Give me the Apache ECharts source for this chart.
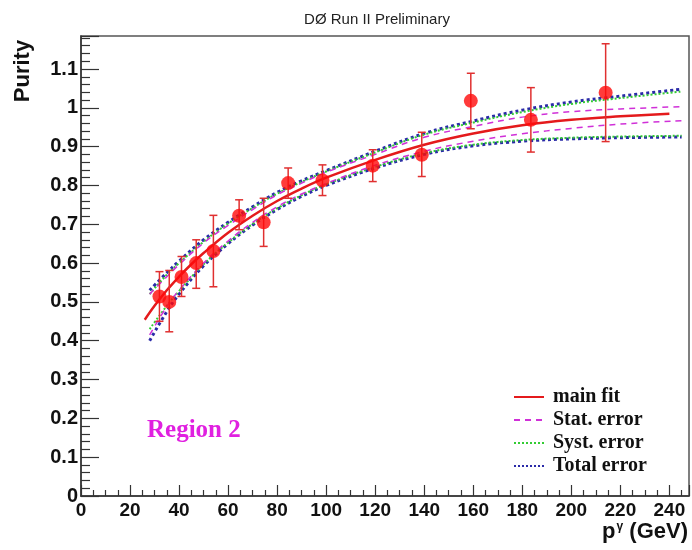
<!DOCTYPE html>
<html><head><meta charset="utf-8">
<script src="https://cdn.jsdelivr.net/npm/echarts@6/dist/echarts.min.js"></script>
<style>html,body{margin:0;padding:0;background:#fff}#c{width:692px;height:550px}</style>
</head><body><div id="c"></div>
<script>
// data points (pT bin centres, purity, error bar ends)
const pointX = [32, 36, 41, 47, 54, 64.5, 74.5, 84.5, 98.5, 119, 139, 159, 183.5, 214];
const pointY = [0.514, 0.50, 0.564, 0.60, 0.631, 0.722, 0.705, 0.806, 0.813, 0.851, 0.879, 1.018, 0.969, 1.039];
const errLow = [0.45, 0.423, 0.514, 0.535, 0.539, 0.686, 0.643, 0.767, 0.774, 0.81, 0.823, 0.946, 0.886, 0.913];
const errHigh = [0.578, 0.581, 0.617, 0.66, 0.723, 0.763, 0.767, 0.845, 0.853, 0.892, 0.937, 1.089, 1.052, 1.165];
// main fit curve
const fitX = [26, 30, 35, 40, 45, 50, 60, 70, 80, 90, 100, 120, 140, 160, 180, 200, 220, 240];
const fitY = [0.454, 0.49, 0.53, 0.565, 0.597, 0.626, 0.678, 0.722, 0.76, 0.792, 0.82, 0.866, 0.905, 0.934, 0.955, 0.969, 0.978, 0.985];
// error bands
const bandX = [28, 35, 40, 50, 60, 70, 80, 90, 100, 120, 140, 160, 180, 200, 220, 245];
const totalUp = [0.53, 0.575, 0.605, 0.66, 0.705, 0.745, 0.782, 0.812, 0.838, 0.888, 0.934, 0.966, 0.994, 1.015, 1.03, 1.048];
const totalLow = [0.40, 0.475, 0.52, 0.593, 0.65, 0.698, 0.738, 0.772, 0.8, 0.845, 0.88, 0.902, 0.914, 0.92, 0.923, 0.925];
const statUp = [0.52, 0.565, 0.596, 0.652, 0.697, 0.738, 0.776, 0.806, 0.834, 0.88, 0.924, 0.952, 0.976, 0.99, 0.997, 1.003];
const statLow = [0.415, 0.488, 0.53, 0.6, 0.657, 0.705, 0.745, 0.778, 0.805, 0.852, 0.888, 0.914, 0.933, 0.947, 0.958, 0.967];
const systUp = [0.52, 0.57, 0.6, 0.655, 0.702, 0.742, 0.779, 0.809, 0.836, 0.885, 0.931, 0.962, 0.989, 1.01, 1.025, 1.042];
const systLow = [0.43, 0.49, 0.528, 0.597, 0.653, 0.701, 0.741, 0.775, 0.803, 0.848, 0.883, 0.905, 0.917, 0.923, 0.926, 0.928];
const xTicks = [0, 20, 40, 60, 80, 100, 120, 140, 160, 180, 200, 220, 240];
const yTicks = [0, 0.1, 0.2, 0.3, 0.4, 0.5, 0.6, 0.7, 0.8, 0.9, 1, 1.1];
const legendNames = ['main fit', 'Stat. error', 'Syst. error', 'Total error'];

const zip = (xs, ys) => xs.map((x, i) => [x, ys[i]]);
const RED = '#e41a1c';
const font = '"Liberation Sans", Arial, Helvetica, sans-serif';
const serif = '"Liberation Serif", "Times New Roman", serif';

function bandSeries(name, ys, color, type, width) {
  return {
    name: name, type: 'line', data: zip(bandX, ys), smooth: 0.4, symbol: 'none',
    lineStyle: { color: color, type: type, width: width }, itemStyle: { color: color },
    z: 2, silent: true
  };
}

const chart = echarts.init(document.getElementById('c'), null, { renderer: 'canvas' });
chart.setOption({
  animation: false,
  backgroundColor: '#fff',
  title: {
    text: 'DØ Run II Preliminary', left: 372, top: 7, textAlign: 'center',
    textStyle: { fontFamily: font, fontWeight: 'normal', fontSize: 15, color: '#222' }
  },
  grid: { left: 81, right: 3, top: 36, bottom: 54, show: true, borderColor: '#555', borderWidth: 1.5,
          backgroundColor: 'transparent', outerBoundsMode: 'none', containLabel: false },
  legend: {
    data: legendNames, orient: 'vertical', left: 508, top: 382, itemGap: 3,
    itemWidth: 30, itemHeight: 16,
    itemStyle: { opacity: 0 },
    textStyle: { fontFamily: serif, fontWeight: 'bold', fontSize: 20, lineHeight: 18, color: '#111', padding: [0, 0, 0, 4] }
  },
  xAxis: {
    type: 'value', min: 0, max: 248, interval: 20,
    axisLine: { lineStyle: { color: '#333', width: 1.5 } },
    axisTick: { inside: true, length: 11, lineStyle: { color: '#333', width: 1.2 } },
    minorTick: { show: true, splitNumber: 4, length: 6, lineStyle: { color: '#333', width: 1.2 } },
    splitLine: { show: false },
    axisLabel: {
      margin: 5, fontFamily: font, fontWeight: 'bold', fontSize: 19, color: '#111',
      formatter: v => xTicks.indexOf(v) >= 0 ? String(v) : ''
    }
  },
  yAxis: {
    type: 'value', min: 0, max: 1.185, interval: 0.1,
    axisLine: { show: true, lineStyle: { color: '#333', width: 1.5 } },
    axisTick: { inside: true, length: 18, lineStyle: { color: '#333', width: 1.2 } },
    minorTick: { show: true, splitNumber: 5, length: 9, lineStyle: { color: '#333', width: 1.2 } },
    splitLine: { show: false },
    axisLabel: {
      margin: 3, fontFamily: font, fontWeight: 'bold', fontSize: 20, color: '#111',
      formatter: v => {
        const r = Math.round(v * 10) / 10;
        return (Math.abs(r - v) < 1e-6 && yTicks.indexOf(r) >= 0) ? String(r) : '';
      }
    }
  },
  graphic: [
    { type: 'text', x: 23, y: 71, rotation: Math.PI / 2,
      style: { text: 'Purity', fontFamily: font, fontWeight: 'bold', fontSize: 22, fill: '#111', align: 'center', verticalAlign: 'middle' } },
    { type: 'text', right: 4, top: 521,
      style: {
        text: '{b|p}{s|γ}{b| (GeV)}',
        rich: {
          b: { fontFamily: font, fontWeight: 'bold', fontSize: 22, fill: '#111', verticalAlign: 'bottom' },
          s: { fontFamily: font, fontWeight: 'bold', fontSize: 12, fill: '#111', verticalAlign: 'top', padding: [0, 0, 10, 1] }
        }
      } },
    { type: 'text', left: 147, top: 418, style: { text: 'Region 2', fontFamily: serif, fontWeight: 'bold', fontSize: 25, fill: '#e020e0' } }
  ],
  series: [
    bandSeries('Total error', totalUp, '#2a2aa8', 'dotted', 3),
    bandSeries('Total error', totalLow, '#2a2aa8', 'dotted', 3),
    bandSeries('Syst. error', systUp, '#33cc33', 'dotted', 2),
    bandSeries('Syst. error', systLow, '#33cc33', 'dotted', 2),
    bandSeries('Stat. error', statUp, '#d030d8', [6, 5], 1.5),
    bandSeries('Stat. error', statLow, '#d030d8', [6, 5], 1.5),
    {
      name: 'main fit', type: 'line', data: zip(fitX, fitY), smooth: 0.4, symbol: 'none',
      lineStyle: { color: RED, width: 2.5 }, itemStyle: { color: RED }, z: 3, silent: true
    },
    {
      name: 'errors', type: 'custom', z: 4, silent: true,
      data: pointX.map((x, i) => [x, errLow[i], errHigh[i]]),
      renderItem: function (params, api) {
        const lo = api.coord([api.value(0), api.value(1)]);
        const hi = api.coord([api.value(0), api.value(2)]);
        const w = 4;
        const st = { stroke: '#e03030', lineWidth: 1.5 };
        return {
          type: 'group', children: [
            { type: 'line', shape: { x1: lo[0], y1: lo[1], x2: hi[0], y2: hi[1] }, style: st },
            { type: 'line', shape: { x1: lo[0] - w, y1: lo[1], x2: lo[0] + w, y2: lo[1] }, style: st },
            { type: 'line', shape: { x1: hi[0] - w, y1: hi[1], x2: hi[0] + w, y2: hi[1] }, style: st }
          ]
        };
      }
    },
    {
      name: 'points', type: 'scatter', data: zip(pointX, pointY), symbol: 'circle', symbolSize: 14,
      itemStyle: { color: '#ff0a0a' }, z: 5, silent: true
    }
  ]
});
</script>
</body></html>
